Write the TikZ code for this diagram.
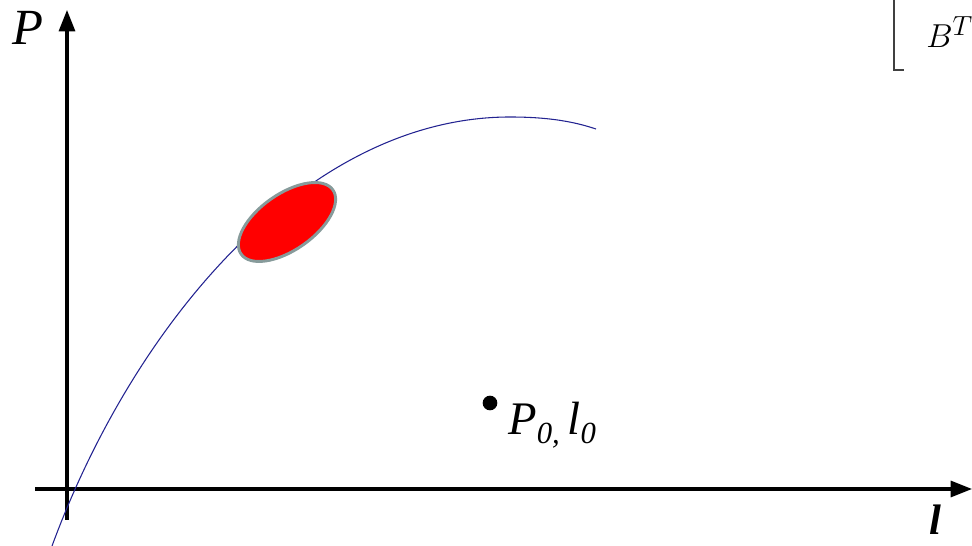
\documentclass[tikz,border=0pt]{standalone}
\usepackage{fontspec}
\setmainfont{Liberation Serif}
\usepackage{amsmath}
\usetikzlibrary{arrows.meta}
\usetikzlibrary{positioning}
\definecolor{curveblue}{RGB}{35,35,145}
\definecolor{rimgray}{RGB}{135,155,155}
\tikzset{
  axisline/.style={line width=2.3pt, -{Triangle[length=16pt, width=12pt]}},
  bigtext/.style={font=\fontsize{38}{38}\selectfont\itshape, inner sep=0pt}
}

\begin{document}
\begin{tikzpicture}[x=0.75pt, y=0.75pt]
  \useasboundingbox (0,0) rectangle (972,546);

  % axes
  \coordinate (ybot) at (67,26);
  \coordinate (ytop) at (67,536);
  \coordinate (xlft) at (35,57);
  \coordinate (xrgt) at (972,57);
  \draw[axisline] (ybot) -- (ytop);
  \draw[axisline] (xlft) -- (xrgt);
  \node[bigtext] (plab) at (28,518) {P};
  \node[bigtext, anchor=base, font=\fontsize{32}{32}\selectfont\bfseries\itshape] (llab) at (935,11) {l};

  % curve
  \coordinate (cstart) at (52,0);
  \coordinate (cpeak) at (510,429);
  \coordinate (cend) at (596,417);
  \draw[curveblue, line width=0.8pt] (cstart) .. controls (136,228) and (310,429) .. (cpeak)
        .. controls (550,429) and (575,424) .. (cend);

  % region on the curve
  \draw[rimgray, line width=2.2pt, fill=red, rotate around={35:(287,324)}]
        (287,324) ellipse [x radius=56, y radius=28];

  % point
  \node[circle, fill=black, inner sep=0pt, minimum size=11pt] (pdot) at (490,143) {};
  \node[anchor=base west, inner sep=0pt, font=\fontsize{35}{35}\selectfont\itshape]
        (pname) at (508,111) {P\raisebox{-0.4ex}{\fontsize{23}{23}\selectfont 0,}\,l\raisebox{-0.4ex}{\fontsize{23}{23}\selectfont 0}};

  % corner piece
  \coordinate (brtop) at (894,546);
  \coordinate (brbot) at (894,476);
  \coordinate (brend) at (904,476);
  \draw[black!75, line width=1.8pt] (brtop) -- (brbot) -- (brend);
  \node[anchor=base west, inner sep=0pt, font=\fontsize{28}{28}\selectfont, text=black]
        (btlab) at (926,498) {$B^T$};
\end{tikzpicture}
\end{document}
